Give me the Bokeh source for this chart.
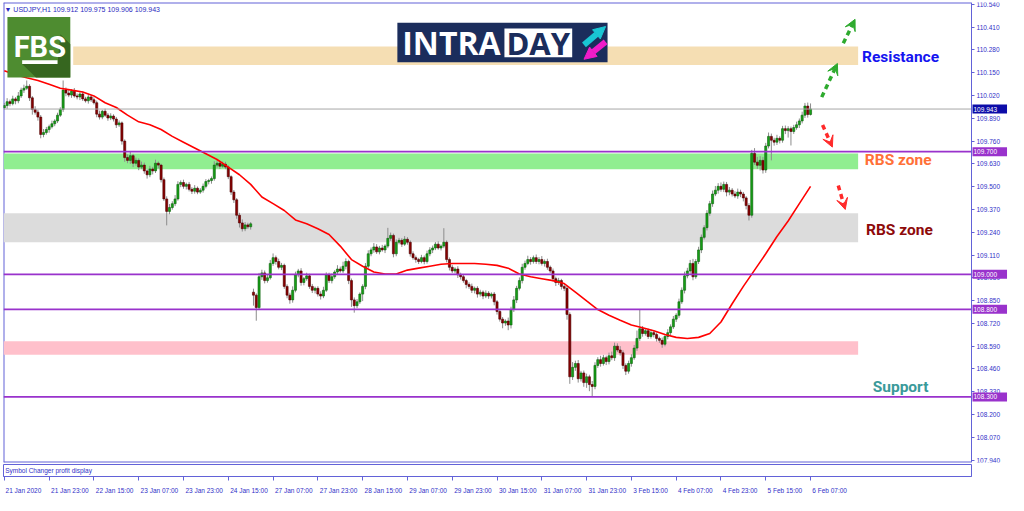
from bokeh.plotting import figure
from bokeh.models import (Range1d, LinearAxis, FixedTicker, Label, Arrow,
                          VeeHead, NormalHead, ColumnDataSource)
from bokeh.layouts import column
from bokeh.embed import file_html
from bokeh.resources import INLINE

# ---------------- data ----------------
header_text = "\u25bc USDJPY,H1  109.912 109.975 109.906 109.943"

closes = [
    109.963, 109.985, 109.974, 110.001, 109.990, 110.018, 110.051, 110.062, 110.073, 110.007,
    109.941, 109.925, 109.897, 109.798, 109.809, 109.826, 109.842, 109.859, 109.875, 109.908,
    109.941, 110.051, 110.034, 110.023, 110.045, 110.018, 110.012, 110.029, 110.001, 109.990,
    110.012, 109.996, 109.979, 109.914, 109.897, 109.930, 109.908, 109.892, 109.903, 109.886,
    109.853, 109.864, 109.760, 109.666, 109.650, 109.677, 109.634, 109.650, 109.612, 109.623,
    109.590, 109.568, 109.601, 109.590, 109.634, 109.623, 109.540, 109.430, 109.359, 109.381,
    109.403, 109.430, 109.513, 109.524, 109.502, 109.513, 109.485, 109.474, 109.491, 109.469,
    109.480, 109.502, 109.529, 109.535, 109.546, 109.623, 109.634, 109.617, 109.628, 109.612,
    109.557, 109.469, 109.425, 109.337, 109.293, 109.260, 109.282, 109.271, 109.288, 108.881,
    108.810, 108.986, 109.008, 108.964, 108.980, 109.062, 109.095, 109.073, 109.040, 109.051,
    108.931, 108.881, 108.854, 108.909, 108.997, 109.019, 108.953, 108.975, 108.991, 108.931,
    108.909, 108.920, 108.887, 108.876, 108.909, 108.997, 108.964, 108.986, 109.013, 109.030,
    109.019, 109.046, 109.073, 108.964, 108.854, 108.821, 108.843, 108.887, 108.931, 109.046,
    109.117, 109.139, 109.156, 109.128, 109.150, 109.139, 109.161, 109.205, 109.222, 109.117,
    109.183, 109.194, 109.172, 109.200, 109.183, 109.117, 109.095, 109.084, 109.073, 109.095,
    109.073, 109.117, 109.139, 109.150, 109.172, 109.150, 109.161, 109.183, 109.084, 109.040,
    109.019, 109.030, 108.997, 108.986, 108.964, 108.942, 108.931, 108.909, 108.920, 108.887,
    108.898, 108.876, 108.892, 108.876, 108.887, 108.843, 108.788, 108.744, 108.722, 108.733,
    108.711, 108.799, 108.854, 108.920, 108.964, 109.040, 109.062, 109.084, 109.073, 109.095,
    109.073, 109.084, 109.062, 109.073, 109.040, 109.019, 108.975, 108.953, 108.964, 108.931,
    108.920, 108.771, 108.415, 108.469, 108.491, 108.404, 108.437, 108.382, 108.415, 108.371,
    108.360, 108.480, 108.513, 108.491, 108.524, 108.502, 108.535, 108.524, 108.590, 108.568,
    108.552, 108.480, 108.447, 108.491, 108.524, 108.579, 108.634, 108.689, 108.662, 108.678,
    108.645, 108.667, 108.656, 108.634, 108.623, 108.601, 108.645, 108.667, 108.700, 108.744,
    108.766, 108.843, 108.909, 108.991, 109.019, 109.062, 108.986, 109.073, 109.139, 109.211,
    109.266, 109.348, 109.403, 109.458, 109.480, 109.502, 109.485, 109.513, 109.469, 109.480,
    109.458, 109.447, 109.469, 109.458, 109.436, 109.392, 109.337, 109.690, 109.640, 109.622,
    109.650, 109.595, 109.732, 109.787, 109.765, 109.754, 109.776, 109.765, 109.831, 109.820,
    109.831, 109.815, 109.837, 109.853, 109.875, 109.908, 109.960, 109.912, 109.943,
]
first_open = 109.950
gap_open_bar = 89          # Monday 27 Jan opening gap
gap_open_price = 108.898

# wick lengths in thousandths of a yen
wick_up = [
    15, 20, 12, 18, 10, 22, 14, 20, 33, 12,  10, 18, 14, 12, 20, 15, 12, 18, 10, 14,
    12, 55, 15, 20, 12, 18, 14, 10, 16, 12,  18, 10, 14, 12, 20, 8, 15, 12, 16, 10,
    12, 14, 8, 10, 18, 22, 10, 16, 12, 20,   14, 10, 18, 12, 20, 10, 8, 12, 15, 20,
    14, 22, 18, 12, 16, 10, 14, 12, 18, 10,  12, 16, 14, 10, 12, 22, 18, 12, 16, 14,
    10, 8, 12, 10, 14, 20, 16, 12, 10, 20,   10, 22, 18, 14, 16, 20, 24, 12, 16, 14,
    10, 12, 14, 22, 18, 12, 16, 10, 18, 12,  14, 10, 12, 16, 20, 14, 12, 18, 10, 22,
    14, 26, 18, 10, 12, 14, 16, 10, 12, 18,  20, 14, 22, 16, 12, 18, 10, 60, 16, 10,
    16, 14, 12, 18, 12, 10, 14, 12, 10, 16,  12, 18, 16, 14, 12, 16, 10, 80, 10, 12,
    14, 10, 16, 12, 14, 10, 12, 16, 10, 12,  14, 10, 16, 12, 10, 12, 10, 14, 12, 10,
    20, 16, 22, 14, 18, 20, 16, 22, 14, 12,  18, 14, 20, 12, 16, 10, 14, 12, 16, 10,
    12, 14, 12, 30, 16, 20, 12, 14, 18, 12,  20, 18, 14, 22, 16, 12, 18, 24, 20, 16,
    22, 14, 12, 16, 20, 18, 45, 110, 16, 14, 12, 18, 14, 12, 10, 16, 12, 20, 14, 18,
    12, 18, 16, 24, 18, 20, 26, 14, 18, 16,  14, 18, 16, 20, 24, 18, 22, 16, 14, 18,
    12, 16, 20, 14, 12, 10, 14, 20, 30, 30,  24, 20, 18, 22, 16, 14, 20, 12, 16, 18,
    14, 12, 16, 18, 14, 20, 18, 20, 32,
]
wick_dn = [
    12, 18, 15, 10, 20, 14, 12, 16, 10, 18,  30, 14, 20, 22, 16, 12, 18, 10, 14, 12,
    10, 14, 18, 12, 16, 10, 14, 18, 12, 10,  16, 12, 10, 18, 14, 12, 10, 16, 12, 14,
    18, 12, 20, 24, 16, 20, 22, 14, 18, 12,  16, 22, 14, 20, 12, 18, 16, 12, 80, 16,
    12, 14, 10, 16, 14, 18, 12, 16, 14, 12,  10, 14, 12, 16, 18, 12, 14, 16, 10, 12,
    14, 16, 18, 20, 26, 16, 14, 12, 16, 60,  75, 14, 18, 16, 12, 10, 14, 18, 12, 16,
    14, 18, 22, 16, 12, 14, 18, 16, 12, 14,  16, 18, 14, 20, 12, 10, 14, 16, 12, 14,
    10, 12, 18, 20, 40, 40, 14, 12, 40, 16,  12, 14, 16, 12, 14, 10, 18, 12, 14, 20,
    14, 12, 16, 10, 14, 16, 12, 18, 14, 10,  16, 12, 14, 18, 12, 10, 14, 12, 16, 18,
    12, 14, 18, 16, 12, 22, 14, 16, 18, 20,  14, 18, 12, 16, 14, 20, 18, 14, 30, 16,
    30, 20, 14, 18, 12, 16, 14, 10, 18, 12,  14, 16, 12, 18, 14, 12, 16, 20, 14, 18,
    16, 30, 40, 18, 20, 22, 16, 24, 30, 38,  55, 16, 14, 18, 12, 20, 16, 14, 18, 12,
    16, 20, 22, 14, 18, 12, 16, 14, 18, 12,  14, 12, 16, 18, 14, 20, 12, 16, 14, 12,
    16, 14, 12, 18, 14, 16, 20, 12, 14, 18,  12, 16, 14, 18, 12, 20, 14, 16, 24, 18,
    14, 12, 16, 18, 20, 22, 30, 14, 16, 20,  30, 20, 16, 14, 115, 20, 16, 18, 14, 20,
    40, 80, 14, 12, 18, 14, 16, 18, 6,
]

# moving average, read every 4th bar
ma_bars = [0, 4, 8, 12, 16, 20, 24, 28, 32, 36, 40, 44, 48, 52, 56, 60, 64, 68, 72, 76,
           80, 84, 88, 92, 96, 100, 104, 108, 112, 116, 120, 124, 128, 132, 136, 140, 144,
           148, 152, 156, 160, 164, 168, 172, 176, 180, 184, 188, 192, 196, 200, 204, 208,
           212, 216, 220, 224, 228, 232, 236, 240, 244, 248, 252, 256, 260, 264, 268, 272,
           276, 280, 284, 288]
ma_values = [110.161, 110.139, 110.122, 110.106, 110.084, 110.062, 110.051, 110.040, 110.018, 109.979,
             109.952, 109.908, 109.870, 109.853, 109.826, 109.787, 109.754, 109.721, 109.688, 109.655,
             109.612, 109.568, 109.513, 109.441, 109.403, 109.364, 109.310, 109.288, 109.260, 109.227,
             109.161, 109.084, 109.046, 109.013, 109.002, 109.002, 109.024, 109.035, 109.046, 109.057,
             109.062, 109.062, 109.062, 109.057, 109.051, 109.035, 109.002, 108.986, 108.975, 108.964,
             108.947, 108.898, 108.848, 108.799, 108.766, 108.738, 108.711, 108.695, 108.678, 108.656,
             108.640, 108.634, 108.640, 108.662, 108.728, 108.832, 108.931, 109.024, 109.117, 109.216,
             109.304, 109.403, 109.502]

time_ticks = [0, 16, 32, 48, 64, 80, 96, 112, 128, 144, 160, 176, 192, 208, 224, 240, 256, 272, 288]
time_labels = ["21 Jan 2020", "21 Jan 23:00", "22 Jan 15:00", "23 Jan 07:00", "23 Jan 23:00",
               "24 Jan 15:00", "27 Jan 07:00", "27 Jan 23:00", "28 Jan 15:00", "29 Jan 07:00",
               "29 Jan 23:00", "30 Jan 15:00", "31 Jan 07:00", "31 Jan 23:00", "3 Feb 15:00",
               "4 Feb 07:00", "4 Feb 23:00", "5 Feb 15:00", "6 Feb 07:00"]

price_ticks = [110.54, 110.41, 110.28, 110.15, 110.02, 109.89, 109.76, 109.63, 109.50, 109.37,
               109.24, 109.11, 108.98, 108.85, 108.72, 108.59, 108.46, 108.33, 108.20, 108.07, 107.94]
price_labels = ["110.540", "110.410", "110.280", "110.150", "110.020", "109.890", "109.760",
                "109.630", "109.500", "109.370", "109.240", "109.110", "108.980", "108.850",
                "108.720", "108.590", "108.460", "108.330", "108.200", "108.070", "107.940"]

current_price = 109.943
level_prices = [109.700, 109.000, 108.800, 108.300]
level_labels = ["109.700", "109.000", "108.800", "108.300"]

zone_bottom = [110.195, 109.600, 109.183, 108.541]
zone_top = [110.300, 109.690, 109.348, 108.618]
zone_left = [24.6, -0.3, -0.3, -0.3]
zone_right = [305.0, 305.0, 305.0, 305.0]
zone_colors = ["#F5DEB3", "#90EE90", "#DCDCDC", "#FFC0CB"]

note_texts = ["Resistance", "RBS zone", "RBS zone", "Support"]
note_x = [306.4, 307.4, 307.8, 310.2]
note_y = [110.238, 109.650, 109.255, 108.354]
note_colors = ["#1414F0", "#FF7038", "#8E0A0A", "#3A9A9A"]

arrow_x0 = [292.0, 299.7, 292.3, 297.9]
arrow_y0 = [110.011, 110.318, 109.852, 109.507]
arrow_x1 = [297.6, 303.9, 295.8, 300.4]
arrow_y1 = [110.203, 110.455, 109.726, 109.370]
arrow_colors = ["#2EAA2E", "#2EAA2E", "#FF2A2A", "#FF2A2A"]

# ---------------- styling ----------------
AX = "#6262D8"
TXT = "#3030C8"
SMALL = "Liberation Sans"
X0, X1 = -0.3, 345.5          # chart area (bars)
Y0, Y1 = 107.926, 110.551
FW = 968                      # chart area width in px
RW = 37                       # price-scale strip width in px
bar_px = FW / (X1 - X0)
X_END = X1 + RW / bar_px      # the price-scale strip lives inside the frame

# ref-pixel helpers for the decorative logos only
def dx(px):
    return (px - 3) / 2.85 - 0.3

def dy(py):
    return 110.551 - 0.005491 * py

# ---------------- main chart ----------------
p = figure(frame_width=FW + RW, frame_height=460, x_range=Range1d(X0, X_END),
           y_range=Range1d(Y0, Y1), output_backend="svg", toolbar_location=None,
           x_axis_location=None, y_axis_location=None, min_border_left=3,
           min_border_top=2, min_border_bottom=2, min_border_right=0)
p.grid.visible = False
p.outline_line_color = None
p.background_fill_color = "white"
p.border_fill_color = "white"

ya = LinearAxis(fixed_location=X1, ticker=FixedTicker(ticks=price_ticks, minor_ticks=[]))
ya.major_label_overrides = {t: s for t, s in zip(price_ticks, price_labels)}
ya.axis_line_color = AX
ya.major_tick_line_color = AX
ya.major_tick_out = 3
ya.major_tick_in = 0
ya.minor_tick_line_color = None
ya.major_label_standoff = 2
ya.major_label_text_font = SMALL
ya.major_label_text_font_size = "6.5px"
ya.major_label_text_color = TXT
p.add_layout(ya, "right")

# chart frame (left, top, bottom borders)
p.segment(x0=[X0, X0, X0], y0=[Y0, Y1, Y0], x1=[X0, X1, X1], y1=[Y1, Y1, Y0],
          line_color=AX, line_width=2)

# zones
p.quad(left=zone_left, right=zone_right, bottom=zone_bottom, top=zone_top,
       fill_color=zone_colors, line_color=None)

# candles
n = len(closes)
opens = [first_open] + closes[:-1]
opens[gap_open_bar] = gap_open_price
bars = list(range(n))
highs = [max(o, c) + u / 1000 for o, c, u in zip(opens, closes, wick_up)]
lows = [min(o, c) - d / 1000 for o, c, d in zip(opens, closes, wick_dn)]
bull = [c >= o for o, c in zip(opens, closes)]
src = ColumnDataSource(dict(
    x=bars, high=highs, low=lows,
    top=[max(o, c) for o, c in zip(opens, closes)],
    bottom=[min(o, c) for o, c in zip(opens, closes)],
    fill=["#16A016" if b else "#8B0000" for b in bull],
    edge=["#0B600B" if b else "#4A0000" for b in bull],
))
p.segment(x0="x", y0="low", x1="x", y1="high", source=src, line_color="#8C8C8C", line_width=1)
p.vbar(x="x", width=0.75, top="top", bottom="bottom", source=src,
       fill_color="fill", line_color="edge", line_width=0.6)

# moving average
p.line(ma_bars, ma_values, line_color="#FF0000", line_width=1.6)

# horizontal levels (stop at the price scale)
p.segment(x0=[X0], y0=[current_price], x1=[X1], y1=[current_price], line_color="#A8A8A8", line_width=1)
p.segment(x0=[X0] * len(level_prices), y0=level_prices, x1=[X1] * len(level_prices), y1=level_prices,
          line_color="#9932CC", line_width=1.8)

def axis_box(y, text, bg):
    lab = Label(x=X1, y=y, x_offset=1, text=" " + text + "    ", text_align="left",
                text_baseline="middle", text_color="white", text_font=SMALL,
                text_font_size="6.5px", background_fill_color=bg)
    try:
        lab.padding = 1
    except Exception:
        pass
    p.add_layout(lab)

axis_box(current_price, "109.943", "#0C0CA8")
for lv, s_ in zip(level_prices, level_labels):
    axis_box(lv, s_, "#9932CC")

# FBS logo
p.quad(left=[dx(7)], right=[dx(71)], top=[dy(15)], bottom=[dy(78)], fill_color="#4E8C30", line_color=None)
p.patch([dx(22), dx(58), dx(61), dx(71), dx(71), dx(36)],
        [dy(64), dy(64), dy(33), dy(43), dy(78), dy(78)], fill_color="#36661F", line_color=None)
p.quad(left=[dx(22)], right=[dx(58)], top=[dy(60)], bottom=[dy(64)], fill_color="white", line_color=None)
p.add_layout(Label(x=dx(40), y=dy(46), text="FBS", text_align="center", text_baseline="middle",
                   text_color="white", text_font="Liberation Sans Narrow, Roboto, sans-serif",
                   text_font_style="bold", text_font_size="29px"))

# INTRADAY banner
p.quad(left=[dx(404)], right=[dx(618)], top=[dy(21)], bottom=[dy(62)], fill_color="#1B2D5C", line_color=None)
p.quad(left=[dx(513)], right=[dx(582)], top=[dy(27)], bottom=[dy(57)], fill_color="white", line_color=None)
p.add_layout(Label(x=dx(409), y=dy(42), text="INTRA", text_align="left", text_baseline="middle",
                   text_color="white", text_font="Open Sans", text_font_style="bold", text_font_size="32px"))
p.add_layout(Label(x=dx(515), y=dy(42), text="DAY", text_align="left", text_baseline="middle",
                   text_color="#1B2D5C", text_font="Open Sans", text_font_style="bold", text_font_size="31px"))
p.add_layout(Arrow(x_start=dx(594), y_start=dy(44), x_end=dx(616), y_end=dy(25),
                   line_color="#19C6D3", line_width=6,
                   end=NormalHead(size=12, fill_color="#19C6D3", line_color="#19C6D3")))
p.add_layout(Arrow(x_start=dx(616), y_start=dy(41), x_end=dx(594), y_end=dy(59),
                   line_color="#F01CC9", line_width=6,
                   end=NormalHead(size=12, fill_color="#F01CC9", line_color="#F01CC9")))

# header
p.add_layout(Label(x=dx(4), y=dy(7), text=header_text, text_align="left", text_baseline="middle",
                   text_color="#2A2AC0", text_font=SMALL, text_font_size="7px"))

# scenario arrows
for xa, ya_, xb, yb, c in zip(arrow_x0, arrow_y0, arrow_x1, arrow_y1, arrow_colors):
    p.add_layout(Arrow(x_start=xa, y_start=ya_, x_end=xb, y_end=yb, line_color=c, line_width=3.5,
                       line_dash="5 4",
                       end=VeeHead(size=11, fill_color=c, line_color=c, line_width=1)))

# zone notes
for t, xx, yy, c in zip(note_texts, note_x, note_y, note_colors):
    p.add_layout(Label(x=xx, y=yy, text=t, text_align="left", text_baseline="middle",
                       text_color=c, text_font="Roboto", text_font_style="bold",
                       text_font_size="15.5px"))

# ---------------- sub window + time axis ----------------
s = figure(frame_width=FW, frame_height=12, x_range=Range1d(X0, X1), y_range=Range1d(0, 1),
           output_backend="svg", toolbar_location=None, x_axis_location=None,
           y_axis_location=None, min_border_left=3, min_border_top=0,
           min_border_bottom=0, min_border_right=RW)
s.grid.visible = False
s.outline_line_color = AX
s.background_fill_color = "white"
s.add_layout(Label(x=0.3, y=0.5, text="Symbol Changer profit display", text_align="left",
                   text_baseline="middle", text_color=TXT, text_font=SMALL, text_font_size="6.5px"))

tick_axis = LinearAxis(ticker=FixedTicker(ticks=time_ticks, minor_ticks=[]))
tick_axis.axis_line_color = AX
tick_axis.major_tick_line_color = AX
tick_axis.major_tick_out = 4
tick_axis.major_tick_in = 0
tick_axis.minor_tick_line_color = None
tick_axis.major_label_text_font_size = "1px"
tick_axis.major_label_text_alpha = 0
tick_axis.major_label_standoff = 0
s.add_layout(tick_axis, "below")

label_pos = [round(t + (1.5 + 1.6 * len(lbl)) / bar_px, 3) for t, lbl in zip(time_ticks, time_labels)]
lab_axis = LinearAxis(ticker=FixedTicker(ticks=label_pos, minor_ticks=[]))
lab_axis.major_label_overrides = {pos: lbl for pos, lbl in zip(label_pos, time_labels)}
lab_axis.axis_line_color = None
lab_axis.major_tick_line_color = None
lab_axis.minor_tick_line_color = None
lab_axis.major_label_standoff = 0
lab_axis.major_label_text_font = SMALL
lab_axis.major_label_text_font_size = "6.5px"
lab_axis.major_label_text_color = TXT
s.add_layout(lab_axis, "below")

layout = column(p, s, spacing=0)
open("out.html", "w").write(file_html(layout, INLINE))
